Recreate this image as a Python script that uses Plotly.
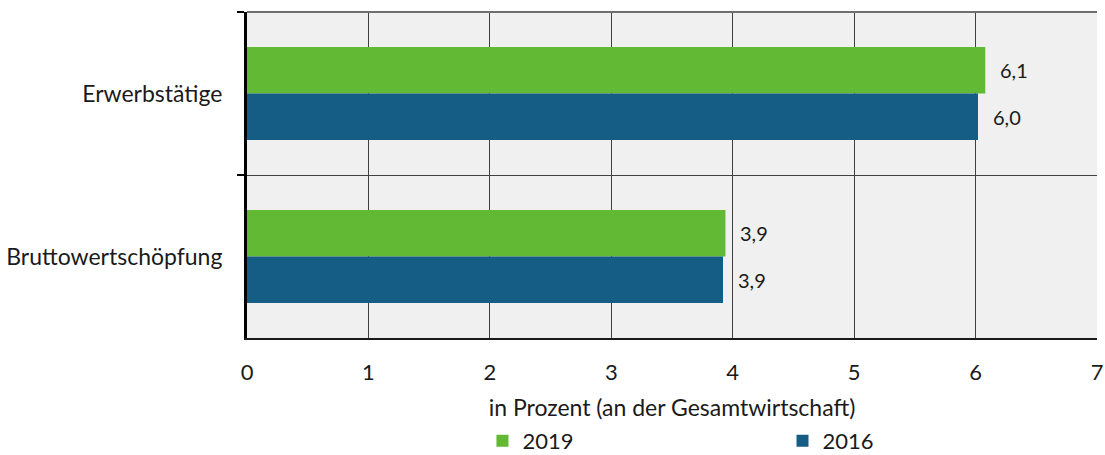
import plotly.graph_objects as go

categories = ["Erwerbstätige", "Bruttowertschöpfung"]
values_2019 = [6.08, 3.94]
values_2016 = [6.02, 3.92]
series_names = ["2019", "2016"]
x_ticks = [0, 1, 2, 3, 4, 5, 6, 7]

colors = {"2019": "#62b933", "2016": "#155d85"}
font_family = "Lato, 'Open Sans', sans-serif"
text_color = "#1a1a1a"
bargap = 0.43

fig = go.Figure()
legends = ["legend", "legend2"]
for name, vals, lg in zip(series_names, [values_2019, values_2016], legends):
    fig.add_trace(go.Bar(
        y=categories, x=vals, name=name, orientation="h",
        marker=dict(color=colors[name], line=dict(width=0)),
        offsetgroup=name, legend=lg,
    ))

# value labels to the right of each bar
n = len(series_names)
bar_w = (1 - bargap) / n
for i, vals in enumerate([values_2019, values_2016]):
    for j, v in enumerate(vals):
        fig.add_annotation(
            x=v, y=j - (1 - bargap) / 2 + bar_w * (i + 0.5),
            text=f"{v:.1f}".replace(".", ","),
            showarrow=False, xanchor="left", yanchor="middle", xshift=13,
            font=dict(size=20, color=text_color, family=font_family),
        )

# top border of the plot area
fig.add_shape(type="line", xref="paper", yref="paper", x0=0, x1=1, y0=1, y1=1,
              line=dict(color="#6e6e6e", width=2))

legend_style = dict(orientation="h", yanchor="middle", y=-0.316, xanchor="left",
                    font=dict(size=22, color=text_color), itemwidth=30,
                    bgcolor="rgba(0,0,0,0)")

fig.update_layout(
    width=1105, height=455,
    margin=dict(l=247, r=8, t=12, b=117, autoexpand=False),
    paper_bgcolor="white", plot_bgcolor="#f0f0f0",
    barmode="group", bargap=bargap, bargroupgap=0,
    separators=",.",
    font=dict(family=font_family, size=22, color=text_color),
    xaxis=dict(
        range=[0, 7], tickvals=x_ticks, showgrid=True, gridcolor="#404040", gridwidth=1,
        showline=True, linecolor=text_color, linewidth=2, zeroline=False,
        ticks="", ticklabelstandoff=14,
        title=dict(text="in Prozent (an der Gesamtwirtschaft)", standoff=15,
                   font=dict(size=23)),
        tickfont=dict(size=22),
    ),
    yaxis=dict(
        type="category", autorange="reversed", tickson="boundaries",
        showgrid=True, gridcolor="#404040", gridwidth=1,
        showline=True, linecolor="#000000", linewidth=3,
        ticks="outside", ticklen=7, tickwidth=2, tickcolor="#000000",
        ticklabelstandoff=17, tickfont=dict(size=23),
    ),
    legend=dict(x=0.277, **legend_style),
    legend2=dict(x=0.63, **legend_style),
    showlegend=True,
)

fig.write_html("out.html")
